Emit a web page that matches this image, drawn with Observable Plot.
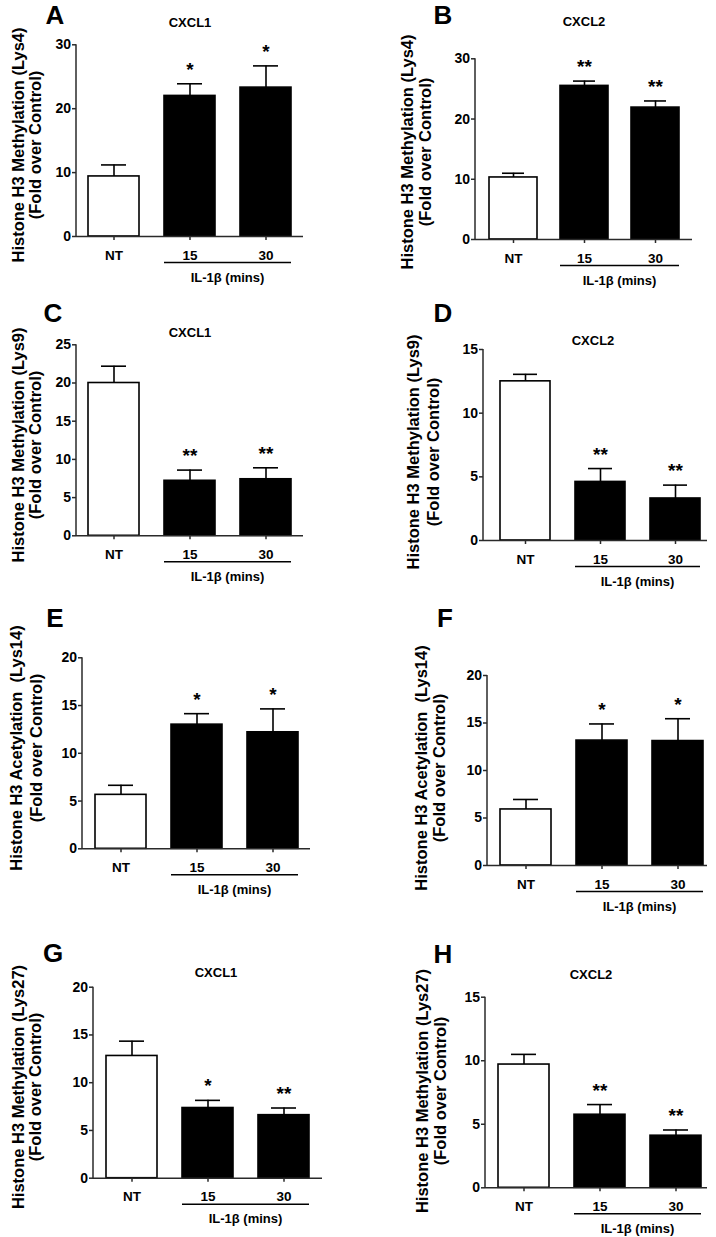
<!DOCTYPE html>
<html><head><meta charset="utf-8">
<script src="https://cdn.jsdelivr.net/npm/d3@7"></script>
<script src="https://cdn.jsdelivr.net/npm/@observablehq/plot@0.6"></script>
<style>
body{margin:0;background:#fff;}
#fig{position:relative;width:716px;height:1237px;overflow:hidden;background:#fff;font-family:"Liberation Sans",Arial,sans-serif;}
.panel{position:absolute;}
.panel svg{overflow:visible;}
.panel svg text{font-weight:bold;}
</style></head><body><div id="fig"></div>
<script>
// ---- data ----
const categories = ["NT", "15", "30"];
const meansA = [9.4, 22.0, 23.3],  semA = [1.8, 1.9, 3.4],   starsA = ["", "*", "*"];
const meansB = [10.3, 25.5, 21.9], semB = [0.7, 0.8, 1.1],   starsB = ["", "**", "**"];
const meansC = [20.0, 7.2, 7.4],   semC = [2.2, 1.4, 1.5],   starsC = ["", "**", "**"];
const meansD = [12.5, 4.6, 3.3],   semD = [0.55, 1.05, 1.05], starsD = ["", "**", "**"];
const meansE = [5.65, 13.0, 12.2], semE = [1.0, 1.15, 2.45], starsE = ["", "*", "*"];
const meansF = [5.9, 13.15, 13.1], semF = [1.05, 1.75, 2.35], starsF = ["", "*", "*"];
const meansG = [12.8, 7.35, 6.6],  semG = [1.55, 0.8, 0.75], starsG = ["", "*", "**"];
const meansH = [9.7, 5.75, 4.1],   semH = [0.8, 0.8, 0.45],  starsH = ["", "**", "**"];
const yMax = [30, 30, 25, 15, 20, 20, 20, 15];
const yTicks = [[0,10,20,30],[0,10,20,30],[0,5,10,15,20,25],[0,5,10,15],[0,5,10,15,20],[0,5,10,15,20],[0,5,10,15,20],[0,5,10,15]];
const panelLetters = ["A","B","C","D","E","F","G","H"];
const panelTitles = ["CXCL1","CXCL2","CXCL1","CXCL2","","","CXCL1","CXCL2"];
const yLabelLine1 = [
  "Histone H3 Methylation (Lys4)", "Histone H3 Methylation (Lys4)",
  "Histone H3 Methylation (Lys9)", "Histone H3 Methylation (Lys9)",
  "Histone H3 Acetylation  (Lys14)", "Histone H3 Acetylation  (Lys14)",
  "Histone H3 Methylation (Lys27)", "Histone H3 Methylation (Lys27)"];
const yLabelLine2 = "(Fold over Control)";
const groupLabel = "IL-1\u03B2 (mins)";

const means = [meansA, meansB, meansC, meansD, meansE, meansF, meansG, meansH];
const sems = [semA, semB, semC, semD, semE, semF, semG, semH];
const stars = [starsA, starsB, starsC, starsD, starsE, starsF, starsG, starsH];

// ---- layout ----
const layout = [
 {left:0,   top:0,   w:358, h:300, axisX:76,  rangeEnd:303, yTop:44.3, y0:236,   po:0.158, align:0.5,  letterX:55, letterY:23.5, titleX:190, titleY:22.5, labX:[18,35], labY:145},
 {left:358, top:0,   w:358, h:300, axisX:117, rangeEnd:334, yTop:58.3, y0:239,   po:0.172, align:0.5,  letterX:85, letterY:23.5, titleX:226, titleY:21,   labX:[49,67], labY:152},
 {left:0,   top:300, w:358, h:300, axisX:76,  rangeEnd:303, yTop:44.3, y0:235.3, po:0.158, align:0.5,  letterX:53, letterY:22, titleX:190, titleY:32.5, labX:[18,35], labY:145},
 {left:358, top:300, w:358, h:300, axisX:125, rangeEnd:349, yTop:49,   y0:240,   po:0.148, align:0.71, letterX:85, letterY:22, titleX:235, titleY:40.7, labX:[55,75], labY:152},
 {left:0,   top:600, w:358, h:320, axisX:82,  rangeEnd:310, yTop:57.3, y0:248.3, po:0.165, align:0.5,  letterX:55, letterY:27, titleX:0,   titleY:0,    labX:[16,36], labY:148},
 {left:358, top:600, w:358, h:320, axisX:129, rangeEnd:349, yTop:75,   y0:265,   po:0.112, align:0.76, letterX:87, letterY:27, titleX:0,   titleY:0,    labX:[63,81], labY:168},
 {left:0,   top:920, w:358, h:317, axisX:93,  rangeEnd:322, yTop:66.7, y0:257.7, po:0.171, align:0.5,  letterX:53, letterY:42, titleX:216, titleY:52.5, labX:[18,35], labY:167},
 {left:358, top:920, w:358, h:317, axisX:127, rangeEnd:349, yTop:76.7, y0:267.3, po:0.125, align:0.68, letterX:85, letterY:43, titleX:233, titleY:54,   labX:[64,82], labY:171}
];

const FONT = '"Liberation Sans", Arial, Helvetica, sans-serif';
const AX = "#2a2a2a";
const fig = document.getElementById("fig");

layout.forEach((L, i) => {
  const rows = categories.map((c, j) => ({
    cat: c, mean: means[i][j], sem: sems[i][j], star: stars[i][j],
    fill: j === 0 ? "white" : "black"
  }));
  const plot = Plot.plot({
    width: L.w, height: L.h,
    marginLeft: L.axisX, marginRight: L.w - L.rangeEnd,
    marginTop: L.yTop, marginBottom: L.h - L.y0,
    style: {fontFamily: FONT, fontSize: "13px", color: "#000", background: "transparent", overflow: "visible"},
    x: {domain: categories, paddingInner: 0.33, paddingOuter: L.po, align: L.align, axis: null},
    y: {domain: [0, yMax[i]], axis: null},
    color: {type: "identity"},
    marks: [
      Plot.barY(rows, {x: "cat", y: "mean", fill: "fill", stroke: "#000", strokeWidth: 1.6}),
      Plot.ruleX(rows, {x: "cat", y1: "mean", y2: d => d.mean + d.sem, stroke: "#000", strokeWidth: 1.6}),
      Plot.tickY(rows, {x: "cat", y: d => d.mean + d.sem, insetLeft: 13, insetRight: 13, stroke: "#000", strokeWidth: 1.6}),
      Plot.text(rows, {x: "cat", y: d => d.mean + d.sem, text: "star", dy: -14, fontSize: 19, fontWeight: "bold", fill: "#000"}),
      Plot.axisY({ticks: yTicks[i], tickSize: 4, tickPadding: 1.5, fontSize: 14, fontWeight: "bold", label: null, stroke: AX, strokeWidth: 1.5, tickFormat: d => String(d)}),
      Plot.axisX({tickSize: 4, tickPadding: 9.5, fontSize: 13.5, fontWeight: "bold", label: null, stroke: AX, strokeWidth: 1.5}),
      Plot.ruleY([0], {stroke: AX, strokeWidth: 1.5})
    ]
  });

  const svg = d3.select(plot);
  const sx = plot.scale("x");
  const sy = plot.scale("y");
  const gx1 = sx.apply("15"), gx2 = sx.apply("30") + sx.bandwidth;
  const g = svg.append("g").attr("font-family", FONT).attr("font-weight", "bold").attr("fill", "#000");

  // y axis line (from the scales)
  g.append("line").attr("x1", sx.range[0]).attr("x2", sx.range[0])
    .attr("y1", sy.apply(yMax[i])).attr("y2", sy.apply(0) + 0.75)
    .attr("stroke", AX).attr("stroke-width", 1.5);

  // group underline + label
  g.append("line").attr("x1", gx1).attr("x2", gx2)
    .attr("y1", L.y0 + 26.5).attr("y2", L.y0 + 26.5)
    .attr("stroke", "#000").attr("stroke-width", 1.5);
  g.append("text").attr("x", (gx1 + gx2) / 2).attr("y", L.y0 + 41).attr("dy", "0.35em")
    .attr("text-anchor", "middle").attr("font-size", 13).text(groupLabel);

  // panel letter
  g.append("text").attr("x", L.letterX).attr("y", L.letterY)
    .attr("font-size", 26).text(panelLetters[i]);

  // title
  if (panelTitles[i]) {
    g.append("text").attr("x", L.titleX).attr("y", L.titleY).attr("dy", "0.35em")
      .attr("text-anchor", "middle").attr("font-size", 13).text(panelTitles[i]);
  }

  // y labels
  [yLabelLine1[i], yLabelLine2].forEach((t, k) => {
    g.append("text")
      .attr("transform", `translate(${L.labX[k]},${L.labY}) rotate(-90)`)
      .attr("dy", "0.35em").attr("text-anchor", "middle")
      .attr("font-size", 16.5).style("white-space", "pre").text(t);
  });

  const div = document.createElement("div");
  div.className = "panel";
  div.style.left = L.left + "px";
  div.style.top = L.top + "px";
  div.appendChild(plot);
  fig.appendChild(div);
});
</script></body></html>
